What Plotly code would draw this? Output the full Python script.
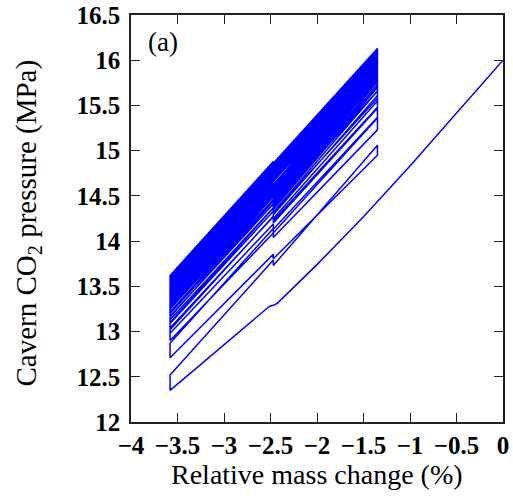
import plotly.graph_objects as go

# ---- data ----
# first withdrawal from the initial state (mass change %, pressure MPa)
first_x = [0.0, -0.5, -1.0, -1.5, -2.0, -2.43, -2.47, -2.51, -3.58]
first_y = [16.0, 15.42, 14.83, 14.27, 13.74, 13.31, 13.29, 13.28, 12.35]

# cycle turning points in mass change (%)
x_left = -3.58
x_mid = -2.47
x_right = -1.35

# pressure at turning points of each injection / withdrawal cycle (MPa)
inj_start = [12.52, 12.87, 13.02, 13.10, 13.16, 13.21, 13.25, 13.29, 13.32, 13.35,
             13.38, 13.40, 13.42, 13.44, 13.46, 13.48, 13.495, 13.51, 13.525, 13.54,
             13.55, 13.56, 13.57, 13.58, 13.585, 13.59, 13.595, 13.60, 13.604, 13.607,
             13.61, 13.612, 13.614, 13.615, 13.616, 13.617, 13.618, 13.619, 13.62, 13.62]
inj_mid_in = [13.79, 14.14, 14.275, 14.365, 14.44, 14.495, 14.54, 14.58, 14.615, 14.645,
              14.675, 14.68, 14.70, 14.72, 14.74, 14.76, 14.775, 14.79, 14.805, 14.815,
              14.825, 14.835, 14.845, 14.85, 14.86, 14.865, 14.865, 14.87, 14.875, 14.875,
              14.88, 14.88, 14.88, 14.88, 14.88, 14.88, 14.88, 14.88, 14.88, 14.88]
inj_mid_out = [13.73, 14.09, 14.225, 14.315, 14.39, 14.445, 14.49, 14.53, 14.565, 14.595,
               14.625, 14.66, 14.68, 14.70, 14.72, 14.74, 14.755, 14.77, 14.785, 14.795,
               14.805, 14.815, 14.825, 14.83, 14.84, 14.845, 14.845, 14.85, 14.855, 14.855,
               14.86, 14.86, 14.86, 14.86, 14.86, 14.86, 14.86, 14.86, 14.86, 14.86]
inj_end = [15.06, 15.36, 15.48, 15.58, 15.66, 15.72, 15.77, 15.81, 15.85, 15.88,
           15.91, 15.935, 15.955, 15.975, 15.995, 16.015, 16.03, 16.045, 16.06, 16.07,
           16.08, 16.09, 16.10, 16.105, 16.11, 16.115, 16.118, 16.12, 16.122, 16.124,
           16.126, 16.127, 16.128, 16.129, 16.13, 16.13, 16.13, 16.13, 16.13, 16.13]
wd_start = [14.95, 15.23, 15.37, 15.47, 15.55, 15.61, 15.66, 15.70, 15.73, 15.76,
            15.79, 15.81, 15.83, 15.85, 15.87, 15.89, 15.90, 15.915, 15.93, 15.94,
            15.95, 15.96, 15.97, 15.975, 15.98, 15.985, 15.988, 15.99, 15.992, 15.994,
            15.996, 15.997, 15.998, 15.999, 16.0, 16.0, 16.0, 16.0, 16.0, 16.0]
wd_mid_in = [13.805, 14.04, 14.13, 14.20, 14.25, 14.29, 14.32, 14.35, 14.37, 14.39,
             14.41, 14.43, 14.45, 14.47, 14.49, 14.50, 14.51, 14.53, 14.54, 14.55,
             14.56, 14.57, 14.58, 14.585, 14.59, 14.595, 14.60, 14.60, 14.605, 14.61,
             14.61, 14.61, 14.61, 14.615, 14.615, 14.615, 14.615, 14.615, 14.615, 14.615]
wd_mid_out = [13.855, 14.09, 14.19, 14.27, 14.33, 14.37, 14.41, 14.44, 14.46, 14.49,
              14.51, 14.53, 14.55, 14.57, 14.59, 14.60, 14.61, 14.63, 14.64, 14.65,
              14.66, 14.67, 14.68, 14.685, 14.69, 14.695, 14.70, 14.70, 14.705, 14.71,
              14.71, 14.71, 14.71, 14.715, 14.715, 14.715, 14.715, 14.715, 14.715, 14.715]
wd_end = [12.71, 12.90, 12.98, 13.04, 13.09, 13.13, 13.17, 13.20, 13.22, 13.25,
          13.27, 13.29, 13.31, 13.33, 13.35, 13.36, 13.375, 13.39, 13.40, 13.41,
          13.42, 13.43, 13.44, 13.445, 13.45, 13.455, 13.46, 13.464, 13.467, 13.47,
          13.472, 13.474, 13.475, 13.476, 13.477, 13.478, 13.479, 13.48, 13.48, 13.48]

x_ticks = [-4, -3.5, -3, -2.5, -2, -1.5, -1, -0.5, 0]
x_tick_text = ["\u22124", "\u22123.5", "\u22123", "\u22122.5", "\u22122", "\u22121.5", "\u22121", "\u22120.5", "0"]
y_ticks = [12, 12.5, 13, 13.5, 14, 14.5, 15, 15.5, 16, 16.5]
y_tick_text = ["12", "12.5", "13", "13.5", "14", "14.5", "15", "15.5", "16", "16.5"]

# ---- assemble the path in time order ----
xs = list(first_x)
ys = list(first_y)
for i in range(len(inj_start)):
    xs += [x_left, x_mid, x_mid, x_right, x_right, x_mid, x_mid, x_left]
    ys += [inj_start[i], inj_mid_in[i], inj_mid_out[i], inj_end[i],
           wd_start[i], wd_mid_in[i], wd_mid_out[i], wd_end[i]]

fig = go.Figure()
fig.add_trace(go.Scatter(x=xs, y=ys, mode="lines",
                         line=dict(color="#0000ff", width=1.5),
                         showlegend=False, hoverinfo="skip"))

serif = "Liberation Serif"
axis_common = dict(showline=True, linecolor="#222", linewidth=1.6, mirror="ticks",
                   ticks="inside", ticklen=9, tickwidth=1.4, tickcolor="#222",
                   showgrid=False, zeroline=False, automargin=False,
                   tickfont=dict(family=serif, size=25, color="black", weight="bold"))

fig.update_xaxes(range=[-4, 0], tickvals=x_ticks,
                 ticktext=["<b>" + t + "</b>" for t in x_tick_text],
                 ticklabelstandoff=0, **axis_common)
fig.update_yaxes(range=[12, 16.5], tickvals=y_ticks,
                 ticktext=["<b>" + t + "</b>" for t in y_tick_text],
                 ticklabelstandoff=4, **axis_common)

# axis titles placed as text in paper coordinates
fig.add_annotation(x=0.5, y=-0.13, xref="paper", yref="paper",
                   text="Relative mass change (%)", showarrow=False,
                   xanchor="center", yanchor="middle",
                   font=dict(family=serif, size=28, color="black"))
fig.add_annotation(x=-0.277, y=0.49, xref="paper", yref="paper",
                   text="Cavern CO<sub>2</sub> pressure (MPa)", showarrow=False,
                   textangle=-90, xanchor="center", yanchor="middle",
                   font=dict(family=serif, size=29, color="black"))

fig.add_annotation(x=0.04, y=0.975, xref="paper", yref="paper", text="(a)",
                   showarrow=False, xanchor="left", yanchor="top",
                   font=dict(family=serif, size=27, color="black"))

fig.update_layout(width=513, height=501, margin=dict(l=131, r=10, t=15, b=79),
                  paper_bgcolor="white", plot_bgcolor="white")

fig.write_html("out.html")
